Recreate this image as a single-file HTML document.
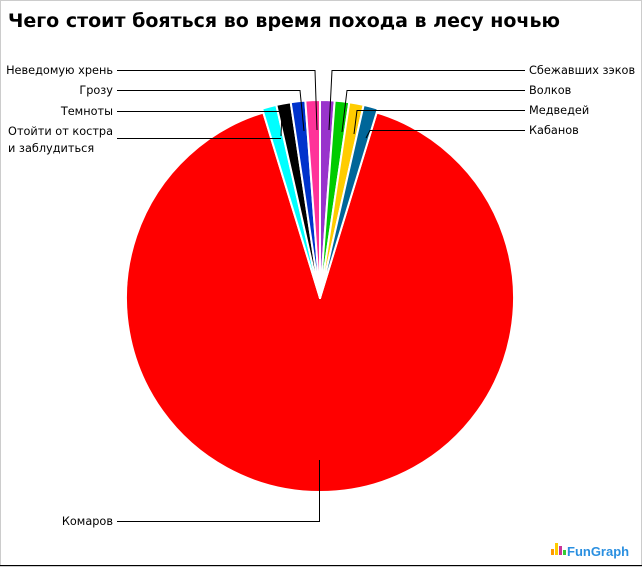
<!DOCTYPE html>
<html><head><meta charset="utf-8"><style>
body{margin:0;background:#fff;}
svg{display:block;font-family:"DejaVu Sans","Liberation Sans",sans-serif;}
</style></head><body>
<svg width="642" height="567" viewBox="0 0 642 567">
<rect x="0.5" y="0.5" width="641" height="566" fill="#fff" stroke="#ccc"/>
<text x="8" y="27" font-size="19" font-weight="bold" fill="#000">Чего стоит бояться во время похода в лесу ночью</text>
<g stroke="#fff" stroke-width="2" stroke-linejoin="round">
<path d="M320,298 L376.7,112.5 A194,194 0 1 1 263.3,112.5 Z" fill="#ff0000"/>
<path d="M320,298 L262.1,108.7 A198,198 0 0 1 276.3,104.9 Z" fill="#00ffff"/>
<path d="M320,298 L276.3,104.9 A198,198 0 0 1 290.7,102.2 Z" fill="#000000"/>
<path d="M320,298 L290.7,102.2 A198,198 0 0 1 305.3,100.6 Z" fill="#0033cc"/>
<path d="M320,298 L305.3,100.6 A198,198 0 0 1 320,100 Z" fill="#ff3399"/>
<path d="M320,298 L320,100 A198,198 0 0 1 334.7,100.6 Z" fill="#9933cc"/>
<path d="M320,298 L334.7,100.6 A198,198 0 0 1 349.3,102.2 Z" fill="#00cc00"/>
<path d="M320,298 L349.3,102.2 A198,198 0 0 1 363.7,104.9 Z" fill="#ffcc00"/>
<path d="M320,298 L363.7,104.9 A198,198 0 0 1 377.9,108.7 Z" fill="#006699"/>
</g>
<g stroke="#000" stroke-width="1" fill="none">
<polyline points="117,70.5 315,70.5 317,130"/>
<polyline points="117,90.5 300,90.5 304,131"/>
<polyline points="117,111.5 282,111.5 281,136"/>
<polyline points="117,138.5 281,138.5"/>
<polyline points="525,70.5 332,70.5 329,130"/>
<polyline points="525,90.5 347,90.5 342,132"/>
<polyline points="525,110.5 357,110.5 354,134"/>
<polyline points="525,130.5 370,130.5 366,138"/>
<polyline points="117,521.5 319.5,521.5 319.5,460"/>
</g>
<g font-size="11.3" fill="#000">
<text x="113" y="74" text-anchor="end">Неведомую хрень</text>
<text x="113" y="94" text-anchor="end">Грозу</text>
<text x="113" y="115" text-anchor="end">Темноты</text>
<text x="113" y="135" text-anchor="end">Отойти от костра</text>
<text x="8" y="152">и заблудиться</text>
<text x="529" y="74">Сбежавших зэков</text>
<text x="529" y="94">Волков</text>
<text x="529" y="114">Медведей</text>
<text x="529" y="134">Кабанов</text>
<text x="113" y="525" text-anchor="end">Комаров</text>
</g>
<g>
<rect x="551" y="549" width="3" height="6" fill="#ff9900"/>
<rect x="555" y="543" width="3" height="12" fill="#ffcc00"/>
<rect x="559" y="546" width="3" height="9" fill="#cc3399"/>
<rect x="563" y="550" width="3" height="5" fill="#33cc33"/>
<text x="567" y="556" font-size="13" font-weight="bold" fill="#2a8fe0" font-family="Liberation Sans, sans-serif">FunGraph</text>
</g>
<line x1="0" y1="565.5" x2="642" y2="565.5" stroke="#000"/>
</svg>
</body></html>
